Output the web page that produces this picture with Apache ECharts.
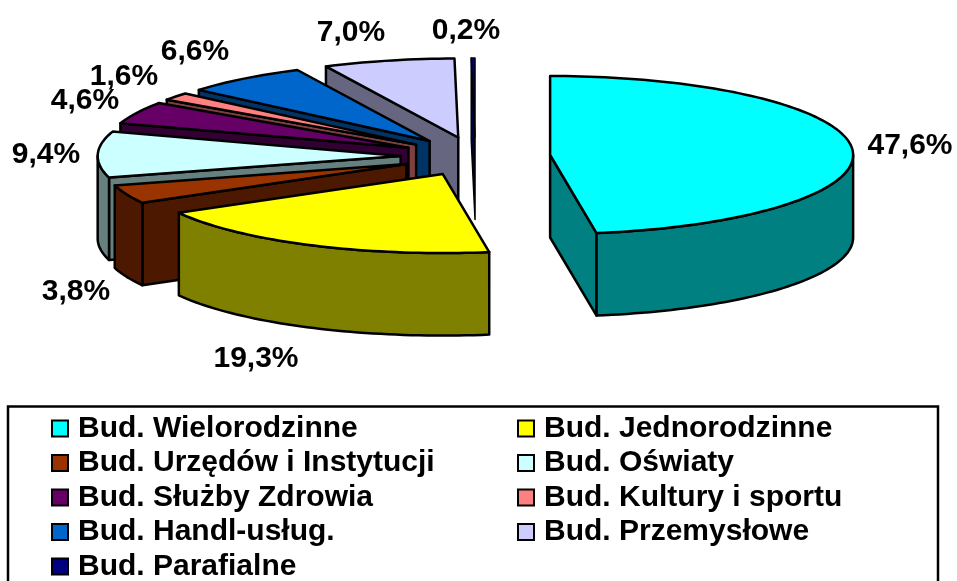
<!DOCTYPE html>
<html>
<head>
<meta charset="utf-8">
<style>
  html, body { margin: 0; padding: 0; background: #fff; overflow: hidden; }
  #chart { width: 957px; height: 581px; }
</style>
<script src="https://cdn.jsdelivr.net/npm/echarts@6/dist/echarts.min.js"></script>
</head>
<body>
<div id="chart"></div>
<script>
const categories = ['Bud. Wielorodzinne', 'Bud. Jednorodzinne', 'Bud. Urzędów i Instytucji', 'Bud. Oświaty',
  'Bud. Służby Zdrowia', 'Bud. Kultury i sportu', 'Bud. Handl-usług.', 'Bud. Przemysłowe', 'Bud. Parafialne'];
const shares = [47.6, 19.3, 3.8, 9.4, 4.6, 1.6, 6.6, 7.0, 0.2];
const shareLabels = ['47,6%', '19,3%', '3,8%', '9,4%', '4,6%', '1,6%', '6,6%', '7,0%', '0,2%'];

const topColors = ['#00FFFF', '#FFFF00', '#993300', '#CCFFFF', '#660066', '#FF8080', '#0066CC', '#CCCCFF', '#000080'];
const sideColors = ['#008080', '#808000', '#4C1900', '#668080', '#330033', '#804040', '#003366', '#666680', '#000040'];
// back to front, the slices overlap each other
const drawZ = [2, 9, 8, 7, 6, 5, 4, 3, 1];
const labelCenters = [[910, 146], [256, 359], [76, 292], [46, 155], [85, 101], [124, 77], [195, 52], [351, 33], [466, 31]];

// fake perspective of the old 3D pie
const pie = { cx: 475.5, cy: 156.5, rx: 303, ry: 79, depth: 82.5, explode: 0.247 };

const total = shares.reduce((a, b) => a + b, 0);
const startAngles = [];
shares.reduce((sum, v, i) => {
  startAngles[i] = sum / total * 360;
  return sum + v;
}, 0);

function rad(deg) {
  return deg * Math.PI / 180;
}

function rim(apex, deg, down) {
  return [
    apex[0] + pie.rx * Math.sin(rad(deg)),
    apex[1] - pie.ry * Math.cos(rad(deg)) + (down ? pie.depth : 0)
  ];
}

function arcPoints(apex, from, to, down) {
  const pts = [];
  const steps = Math.max(2, Math.ceil((to - from) / 1.5));
  for (let s = 0; s <= steps; s++) {
    pts.push(rim(apex, from + (to - from) * s / steps, down));
  }
  return pts;
}

function face(points, fill, lineWidth) {
  return {
    type: 'polygon',
    shape: { points: points },
    style: { fill: fill, stroke: '#000', lineWidth: lineWidth, lineJoin: 'round' }
  };
}

function renderSlice(i) {
  const from = startAngles[i];
  const to = from + shares[i] / total * 360;
  const mid = (from + to) / 2;
  const apex = [
    pie.cx + pie.explode * pie.rx * Math.sin(rad(mid)),
    pie.cy - pie.explode * pie.ry * Math.cos(rad(mid))
  ];
  const apexDown = [apex[0], apex[1] + pie.depth];
  // the sliver would be all outline otherwise
  const lw = shares[i] < 1 ? 1.5 : 2.5;
  const children = [];

  // cut faces turned towards the viewer
  if (Math.sin(rad(from)) < 0) {
    children.push(face([apex, rim(apex, from), rim(apex, from, true), apexDown], sideColors[i], lw));
  }
  if (Math.sin(rad(to)) > 0) {
    children.push(face([apex, rim(apex, to), rim(apex, to, true), apexDown], sideColors[i], lw));
  }
  // outer wall, only the front half shows
  const wallFrom = Math.max(from, 90);
  const wallTo = Math.min(to, 270);
  if (wallTo > wallFrom) {
    const wall = arcPoints(apex, wallFrom, wallTo).concat(arcPoints(apex, wallFrom, wallTo, true).reverse());
    children.push(face(wall, sideColors[i], lw));
  }
  children.push(face([apex].concat(arcPoints(apex, from, to)), topColors[i], lw));
  children.push({
    type: 'text',
    z2: 10,
    style: {
      x: labelCenters[i][0],
      y: labelCenters[i][1],
      text: shareLabels[i],
      fill: '#000',
      font: 'bold 30px "Liberation Sans", Arial, sans-serif',
      align: 'center',
      verticalAlign: 'middle'
    }
  });
  return { type: 'group', children: children };
}

const legendCommon = {
  orient: 'vertical',
  top: 413.5,
  height: 220,
  itemWidth: 16,
  itemHeight: 16,
  itemGap: 4.5,
  icon: 'rect',
  selectedMode: false,
  padding: 0,
  itemStyle: { borderColor: '#000', borderWidth: 2 },
  textStyle: {
    color: '#000',
    fontFamily: '"Liberation Sans", Arial, sans-serif',
    fontWeight: 'bold',
    fontSize: 30,
    lineHeight: 30,
    padding: [0, 0, 0, 5]
  }
};

const chart = echarts.init(document.getElementById('chart'), null, { renderer: 'canvas' });
chart.setOption({
  animation: false,
  backgroundColor: '#fff',
  legend: [
    { ...legendCommon, left: 51, data: categories.filter((c, i) => i % 2 === 0) },
    { ...legendCommon, left: 517, data: categories.filter((c, i) => i % 2 === 1) }
  ],
  graphic: [{
    type: 'rect',
    silent: true,
    shape: { x: 8, y: 406.5, width: 930, height: 190 },
    style: { fill: 'none', stroke: '#000', lineWidth: 2.5 }
  }],
  series: categories.map((name, i) => ({
    type: 'custom',
    name: name,
    coordinateSystem: 'none',
    silent: true,
    z: drawZ[i],
    itemStyle: { color: topColors[i] },
    data: [shares[i]],
    renderItem: () => renderSlice(i)
  }))
});
</script>
</body>
</html>
